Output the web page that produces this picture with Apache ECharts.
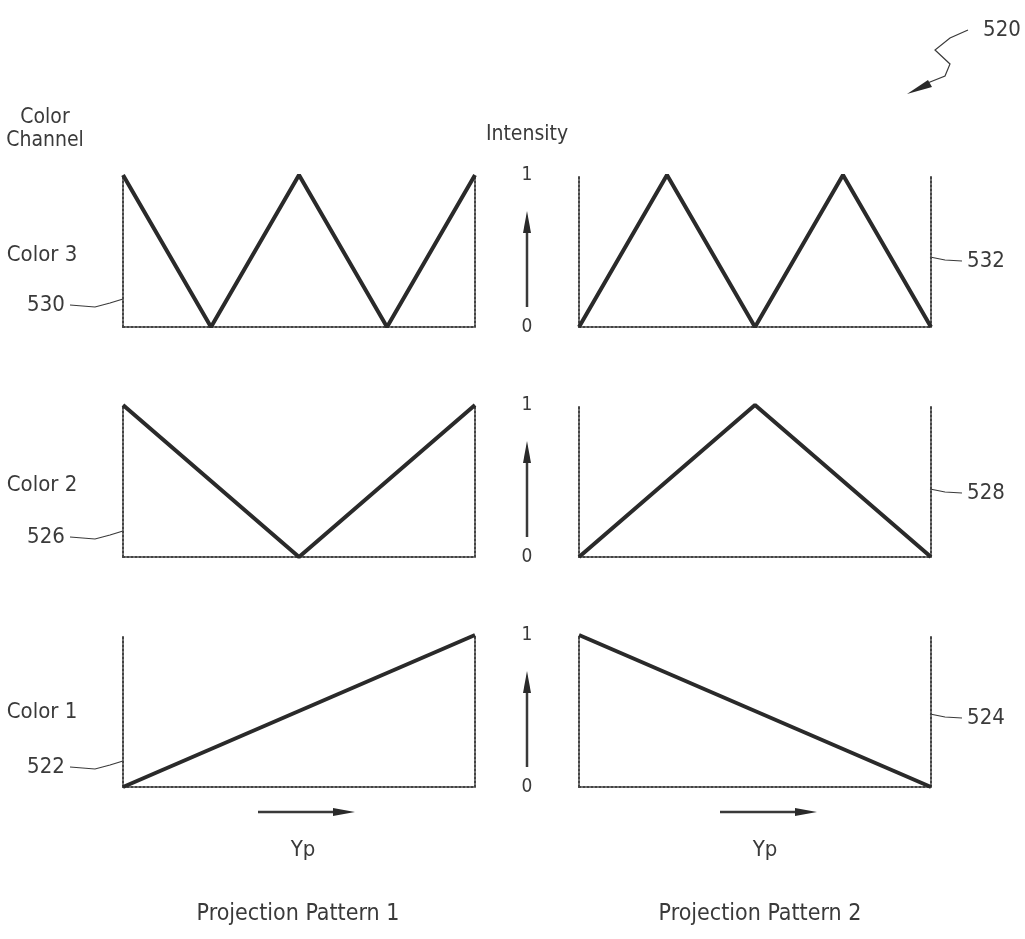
<!DOCTYPE html>
<html>
<head>
<meta charset="utf-8">
<script src="https://cdn.jsdelivr.net/npm/echarts@6/dist/echarts.min.js"></script>
<style>
  html, body { margin: 0; padding: 0; background: #fff; }
  #main { width: 1025px; height: 939px; }
</style>
</head>
<body>
<div id="main"></div>
<script>
// Yp positions (fraction of the pattern width) and intensities per colour channel
var ypColor3 = [0, 0.25, 0.5, 0.75, 1];
var pattern1Color3 = [1, 0, 1, 0, 1];
var pattern2Color3 = [0, 1, 0, 1, 0];
var ypColor2 = [0, 0.5, 1];
var pattern1Color2 = [1, 0, 1];
var pattern2Color2 = [0, 1, 0];
var ypColor1 = [0, 1];
var pattern1Color1 = [0, 1];
var pattern2Color1 = [1, 0];

var rowNames = ['Color 3', 'Color 2', 'Color 1'];
var leftRefs = ['530', '526', '522'];
var rightRefs = ['532', '528', '524'];
var patternNames = ['Projection Pattern 1', 'Projection Pattern 2'];
var intensityTicks = ['0', '1'];

var FONT = '"Liberation Sans Narrow", "DejaVu Sans Condensed", sans-serif';
var INK = '#3a3a3a';
var AXIS = '#444';

function pairs(xs, ys) {
    var out = [];
    for (var i = 0; i < xs.length; i++) {
        out.push([xs[i], ys[i]]);
    }
    return out;
}

var rows = [
    {yp: ypColor3, p1: pattern1Color3, p2: pattern2Color3},
    {yp: ypColor2, p1: pattern1Color2, p2: pattern2Color2},
    {yp: ypColor1, p1: pattern1Color1, p2: pattern2Color1}
];
var rowTop = [175, 405, 635];
var rowH = 152;
var colLeft = [123, 579];
var colW = 352;

var grids = [], xAxes = [], yAxes = [], series = [], graphics = [];
var axisLine = {show: true, lineStyle: {color: AXIS, width: 2, type: 'dotted'}};

for (var r = 0; r < 3; r++) {
    for (var c = 0; c < 2; c++) {
        var g = grids.length;
        grids.push({left: colLeft[c], top: rowTop[r], width: colW, height: rowH});
        xAxes.push({
            gridIndex: g, type: 'value', min: 0, max: 1,
            axisLine: axisLine, axisTick: {show: false},
            axisLabel: {show: false}, splitLine: {show: false}
        });
        // left edge (carries the 0 / 1 intensity labels on the right column)
        yAxes.push({
            gridIndex: g, type: 'value', min: 0, max: 1, interval: 1,
            position: 'left',
            axisLine: axisLine, axisTick: {show: false}, splitLine: {show: false},
            axisLabel: {
                show: c === 1, margin: 52, align: 'center',
                fontFamily: FONT, fontSize: 19, color: INK,
                formatter: function (v) { return intensityTicks[v]; }
            }
        });
        // right edge
        yAxes.push({
            gridIndex: g, type: 'value', min: 0, max: 1, position: 'right',
            axisLine: axisLine, axisTick: {show: false},
            axisLabel: {show: false}, splitLine: {show: false}
        });
        series.push({
            type: 'line',
            xAxisIndex: g,
            yAxisIndex: yAxes.length - 2,
            data: pairs(rows[r].yp, c === 0 ? rows[r].p1 : rows[r].p2),
            symbol: 'none',
            silent: true,
            lineStyle: {color: '#2a2a2a', width: 4}
        });
    }
}

function text(x, y, s, size, align) {
    graphics.push({
        type: 'text', x: x, y: y,
        style: {
            text: s, fontFamily: FONT, fontSize: size || 22, fill: INK,
            align: align || 'center', verticalAlign: 'middle'
        }
    });
}
function line(points, w) {
    graphics.push({
        type: 'polyline',
        shape: {points: points},
        style: {stroke: INK, lineWidth: w || 1.2, fill: null}
    });
}
function arrowHead(tip, dir) {
    // dir: 'up' or 'right'
    var p = dir === 'up'
        ? [[tip[0], tip[1]], [tip[0] - 4, tip[1] + 22], [tip[0] + 4, tip[1] + 22]]
        : [[tip[0], tip[1]], [tip[0] - 22, tip[1] - 4], [tip[0] - 22, tip[1] + 4]];
    graphics.push({type: 'polygon', shape: {points: p}, style: {fill: '#2a2a2a'}});
}

// left side labels
text(45, 118, 'Color', 21);
text(45, 141, 'Channel', 21);
text(527, 135, 'Intensity', 21);
var refY = [[255, 305], [485, 537], [712, 767]];
var rightRefY = [260, 492, 717];
for (var r = 0; r < 3; r++) {
    text(42, refY[r][0], rowNames[r], 22);
    text(46, refY[r][1], leftRefs[r], 22);
    line([[70, refY[r][1]], [95, refY[r][1] + 2], [110, refY[r][1] - 2], [123, refY[r][1] - 6]]);
    line([[930, rightRefY[r] - 3], [945, rightRefY[r]], [962, rightRefY[r] + 1]]);
    text(986, rightRefY[r] + 1, rightRefs[r], 22);
    // intensity arrow between the columns
    var rowY = rowTop[r];
    line([[527, rowY + 132], [527, rowY + 52]], 2.5);
    arrowHead([527, rowY + 36], 'up');
}

// Yp arrows and pattern names
var colMid = [298, 760];
for (var c = 0; c < 2; c++) {
    line([[colMid[c] - 40, 812], [colMid[c] + 40, 812]], 2.5);
    arrowHead([colMid[c] + 57, 812], 'right');
    text(colMid[c] + 5, 850, 'Yp', 22);
    text(colMid[c], 914, patternNames[c], 23);
}

// figure reference 520
text(1002, 30, '520', 22);
line([[968, 30], [950, 38], [935, 50], [950, 64], [945, 76], [925, 84]], 1.2);
graphics.push({
    type: 'polygon',
    shape: {points: [[907, 94], [928, 80], [932, 87]]},
    style: {fill: '#2a2a2a'}
});

var chart = echarts.init(document.getElementById('main'));
chart.setOption({
    backgroundColor: '#fff',
    animation: false,
    grid: grids,
    xAxis: xAxes,
    yAxis: yAxes,
    series: series,
    graphic: graphics
});
</script>
</body>
</html>
